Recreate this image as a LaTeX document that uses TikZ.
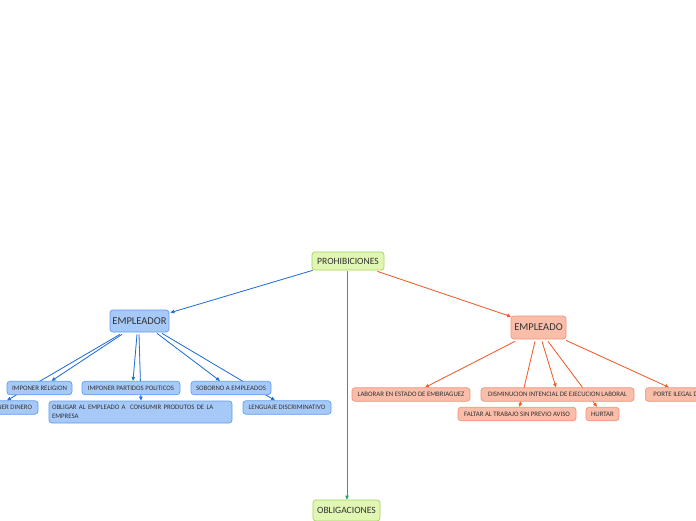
\documentclass[tikz,border=0pt]{standalone}
\usepackage{fontspec}
\setmainfont{Carlito}
\usetikzlibrary{arrows.meta,calc,backgrounds}
\definecolor{gfill}{HTML}{E1F6B2}
\definecolor{gdraw}{HTML}{A6D35C}
\definecolor{bfill}{HTML}{A6C9F8}
\definecolor{bdraw}{HTML}{5E9EF0}
\definecolor{ofill}{HTML}{F9BDA9}
\definecolor{odraw}{HTML}{F2937A}
\definecolor{bline}{HTML}{2270DA}
\definecolor{oline}{HTML}{F25C2A}
\definecolor{gline}{HTML}{22A866}
\definecolor{txt}{HTML}{333333}
\tikzset{
  box/.style={rectangle, rounded corners=3pt, inner sep=0pt, line width=0.7pt, text=txt, align=center},
  rootbox/.style={box, fill=gfill, draw=gdraw, font=\fontsize{9.6}{11}\selectfont},
  bmain/.style={box, fill=bfill, draw=bdraw, font=\fontsize{10.5}{12}\selectfont},
  omain/.style={box, fill=ofill, draw=odraw, font=\fontsize{10.5}{12}\selectfont},
  bsub/.style={box, fill=bfill, draw=bdraw, font=\fontsize{6.8}{9}\selectfont, minimum height=13.5pt},
  osub/.style={box, fill=ofill, draw=odraw, font=\fontsize{6.8}{9}\selectfont, minimum height=13.5pt},
  conn/.style={line width=0.8pt, -{Triangle[length=4pt,width=3.5pt]}},
  bconn/.style={conn, draw=bline, fill=bline},
  oconn/.style={conn, draw=oline, fill=oline},
  gconn/.style={conn, draw=gline, fill=gline},
}
\begin{document}
\begin{tikzpicture}[x=1pt,y=-1pt]
\useasboundingbox (0,0) rectangle (696,520);
\clip (0,0) rectangle (696,520);
% main nodes
\node[rootbox, minimum width=72pt, minimum height=18pt] (proh) at (348,261) {PROHIBICIONES};
\node[rootbox, minimum width=67pt, minimum height=21pt] (obl) at (346.5,510.5) {OBLIGACIONES};
\node[bmain, minimum width=59pt, minimum height=22pt] (empr) at (139.5,321) {EMPLEADOR};
\node[omain, minimum width=55pt, minimum height=23pt] (empo) at (538.5,327.5) {EMPLEADO};
% employer children
\node[bsub, minimum width=65pt] (rel) at (39.5,388) {IMPONER RELIGION};
\node[bsub, minimum width=98pt] (par) at (131,388) {IMPONER PARTIDOS POLITICOS};
\node[bsub, minimum width=80pt] (sob) at (231,388) {SOBORNO A EMPLEADOS};
\node[bsub, minimum width=62pt] (din) at (7,407.5) {IMPONER DINERO};
\node[bsub, minimum width=183pt, minimum height=22pt, text width=177pt, align=left] (obli) at (140.5,412) {OBLIGAR AL EMPLEADO A~ CONSUMIR PRODUTOS DE LA\\EMPRESA};
\node[bsub, minimum width=88pt] (len) at (287,407.5) {LENGUAJE DISCRIMINATIVO};
% employee children
\node[osub, minimum width=118pt] (lab) at (411,394.5) {LABORAR EN ESTADO DE EMBRIAGUEZ};
\node[osub, minimum width=153pt] (dis) at (557.5,394.5) {DISMINUCION INTENCIAL DE EJECUCION LABORAL};
\node[osub, minimum width=86pt, anchor=west] (por) at (645,394.5) {PORTE ILEGAL DE ARMAS};
\node[osub, minimum width=118pt] (fal) at (517,414) {FALTAR AL TRABAJO SIN PREVIO AVISO};
\node[osub, minimum width=33pt] (hur) at (602.5,414) {HURTAR};
% connectors
\begin{scope}[on background layer]
\fill[white] (0,0) rectangle (696,520);
\draw[bconn] ($(proh.south west)+(1,0)$) -- ($(empr.north east)+(1,3)$);
\draw[oconn] ($(proh.south east)+(-7,1)$) -- ($(empo.north west)+(0.5,1)$);
\draw[gconn] ($(proh.south)+(-1,1)$) -- ($(obl.north)+(0.5,0)$);
\draw[bconn] ($(empr.south)+(-17.5,2)$) -- ($(rel.north)+(12,0)$);
\draw[bconn] ($(empr.south)+(-19.5,2)$) -- ($(din.north)+(0,0)$);
\draw[bconn] ($(empr.south)+(-2.5,2)$) -- ($(par.north)+(2,0)$);
\draw[bconn] ($(empr.south)+(-0.5,2)$) -- ($(obli.north)+(0.5,0)$);
\draw[bconn] ($(empr.south)+(17.5,1)$) -- ($(sob.north)+(-11,0)$);
\draw[bconn] ($(empr.south)+(22.5,1)$) -- ($(len.north)+(-12,0)$);
\draw[oconn] ($(empo.south)+(-23.5,2)$) -- ($(lab.north)+(14,0)$);
\draw[oconn] ($(empo.south)+(-3.5,2)$) -- ($(fal.north)+(2.5,0)$);
\draw[oconn] ($(empo.south)+(3.5,2)$) -- ($(dis.north)+(-1.5,0)$);
\draw[oconn] ($(empo.south)+(9.5,2)$) -- ($(hur.north)+(-5.5,0)$);
\draw[oconn] ($(empo.south)+(27.5,1)$) -- ($(por.north west)+(24,0)$);
\end{scope}
\end{tikzpicture}
\end{document}
